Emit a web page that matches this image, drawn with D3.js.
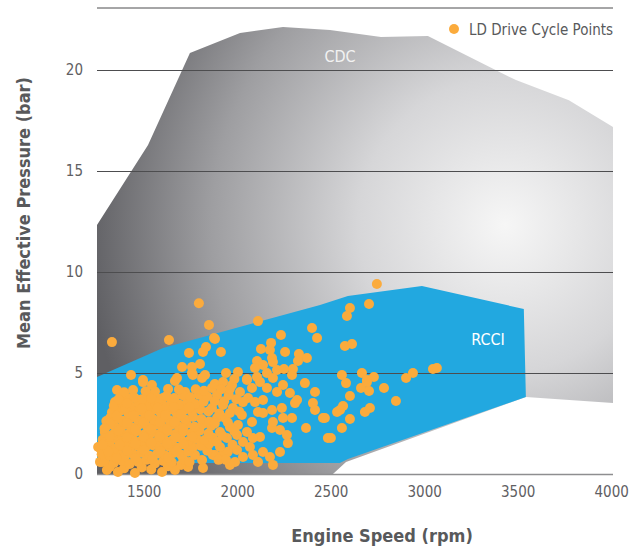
<!doctype html>
<html>
  <head>
    <script src="https://cdnjs.cloudflare.com/ajax/libs/d3/7.8.5/d3.min.js"></script>
    <style>
      body { margin: 0; background: #fff; }
      text { font-family: "DejaVu Sans Condensed", "Liberation Sans Narrow", Roboto, sans-serif; }
      .tick text { fill: #5f6063; font-size: 15px; }
      .axis-title { fill: #58595b; font-size: 18px; font-weight: bold; }
      line.grid { stroke: #4d4d4f; stroke-width: 1; }
      path.cdc { stroke: none; }
      path.rcci { fill: #22a8e0; stroke: none; }
      circle.pt { fill: #fbab3c; }
    </style>
  </head>
  <body>
    <svg width="636" height="547"></svg>
    <script>
      // operating map boundaries (rpm, bar)
      var cdcBoundary = [[1250,0],[1250,12.33],[1523,16.29],[1747,20.84],[2015,21.83],[2245,22.13],[2496,21.98],
        [2769,21.63],[3020,21.68],[3491,19.5],[3774,18.5],[4010,17.18],[4010,3.51],[3544,3.81],[2582,0.59],[2512,0]];
      var rcciBoundary = [[1250,4.8],[1603,6.24],[2443,8.37],[2592,8.81],[2988,9.31],[3533,8.17],[3544,3.81],
        [2592,0.74],[2549,0.54],[1250,0.54]];

      var xTicks = [1500, 2000, 2500, 3000, 3500, 4000];
      var yTicks = [5, 10, 15, 20];

      // LD drive cycle points (rpm, bar)
      var cyclePoints = [
        [1795,8.45],[1849,7.38],[1330,6.53],[1635,6.63],[1876,6.73],[1833,6.29],[1817,6.04],[1742,5.99],[1801,5.45],
        [1758,5.30],[1705,5.30],[1758,5.0],[1828,4.9],[1432,4.9],[1496,4.65],[1678,4.75],
        [2111,7.57],[1881,6.68],[2234,6.88],[2400,7.23],[2427,6.73],[1913,6.04],[2127,6.19],[2181,6.49],[2175,6.14],
        [2256,6.04],[2330,5.94],[2373,5.74],[2325,5.59],[2186,5.74],[2191,5.54],[2106,5.59],[2138,5.40],[2095,5.25],
        [2213,5.15],[2250,5.20],[2298,5.20],[2159,5.0],[2293,4.90],[2004,5.05],[1940,5.0],[2106,4.80],[2052,4.70],[2191,4.75],
        [2747,9.41],[2603,8.22],[2705,8.42],[2587,7.82],[2576,6.34],[2614,6.44],[2560,4.90],[2667,5.0],[2731,4.80],
        [2940,5.0],[3047,5.20],[3068,5.25],[2903,4.75],[2694,4.65],
        [2582,4.50],[2662,4.26],[2694,4.55],[2705,4.11],[2785,4.26],[2603,3.86],[2849,3.61],[2566,3.37],[2534,3.07],
        [2683,3.07],[2710,3.27],[2469,2.77],[2603,2.72],[2560,2.28],[2501,1.78],[2550,3.17],
        [2362,4.50],[2416,4.06],[2405,3.51],[2459,2.77],[2416,3.17],[2368,2.28],[2485,1.78],[2320,3.66],[2293,2.77],
        [2266,1.93],[2271,1.53],[2229,1.09],[2191,0.45],[2175,0.84],[2138,1.09],[2122,1.83],[2186,2.28],[2229,2.18],
        [2245,2.77],[2191,2.57],[2138,3.02],[2186,3.17],[2239,3.27],[2282,4.01],[2309,3.51],[2213,4.06],[2245,4.41],
        [2159,4.26],[2122,4.55],[2079,4.26],[2058,3.76],[2095,3.56],[2138,3.66],[2111,3.07],[2079,2.57],[2052,2.08],
        [2084,1.78],[2031,1.58],[2068,1.34],[2084,0.94],[2111,0.59],[2031,0.84],[1999,1.19],[1988,0.59],[1924,0.94],
        [1961,0.45],[1908,1.34],[1945,1.78],[1999,1.93],[2004,2.43],[1961,2.33],[1908,2.08],[1881,0.94],[1977,3.27],
        [2025,2.92],[2031,3.56],[2015,4.06],[1972,4.41],[1924,4.55],[2052,4.65],[1892,3.91],[1924,3.42],[1892,2.77],
        [1935,2.77],[1961,3.02],[1865,3.27],
        [1496,4.55],[1544,4.41],[1667,4.60],[1630,4.21],[1357,4.16],[1443,4.16],[1533,3.81],[1603,3.76],[1721,4.06],
        [1812,4.75],[1763,4.90],[1865,4.26],[1346,3.56],[1469,3.66],[1416,3.76],[1320,2.77],[1266,1.29],[1277,0.59],
        [1303,0.20],[1362,0.10],[1453,0.05],[1598,0.10],[1667,0.20],[1737,0.35],[1817,0.30],[1812,0.69],[1774,0.94],
        [1870,0.94],[1256,1.34],[1266,0.60],
        [1318,0.35],[1395,0.28],[1490,0.32],[1540,0.22],[1630,0.38],[1700,0.45],
        [1290,0.62],[1340,0.55],[1384,0.66],[1425,0.5],[1470,0.6],[1515,0.7],[1560,0.52],[1605,0.64],[1650,0.58],[1712,0.72],[1745,0.6],
        [1275,0.98],[1318,0.9],[1360,1.02],[1400,0.88],[1445,0.97],[1488,1.05],[1530,0.9],[1572,1.0],[1615,0.92],
        [1660,1.04],[1700,0.95],[1738,1.1],[1840,1.15],
        [1298,1.35],[1340,1.25],[1382,1.38],[1424,1.28],[1466,1.4],[1508,1.3],[1548,1.42],[1590,1.26],[1635,1.36],
        [1678,1.3],[1720,1.45],[1762,1.32],[1805,1.4],[1850,1.5],
        [1280,1.7],[1320,1.62],[1362,1.72],[1402,1.6],[1444,1.7],[1487,1.64],[1527,1.75],[1568,1.6],[1610,1.7],
        [1652,1.66],[1695,1.78],[1738,1.62],[1782,1.74],[1826,1.68],[1868,1.8],
        [1292,2.05],[1335,1.95],[1376,2.08],[1418,1.98],[1460,2.1],[1503,1.96],[1546,2.06],[1588,2.0],[1627,2.12],
        [1670,1.98],[1713,2.1],[1755,2.02],[1798,2.14],[1846,2.0],
        [1306,2.4],[1350,2.3],[1392,2.42],[1433,2.32],[1476,2.45],[1519,2.34],[1560,2.44],[1602,2.3],[1643,2.42],
        [1686,2.36],[1729,2.48],[1772,2.34],[1816,2.46],[1860,2.38],
        [1300,2.62],[1344,2.72],[1386,2.64],[1428,2.76],[1470,2.66],[1512,2.78],[1554,2.68],[1596,2.74],[1638,2.66],
        [1680,2.8],[1722,2.7],[1764,2.82],[1808,2.72],[1850,2.6],
        [1330,3.05],[1374,3.12],[1418,3.0],[1461,3.1],[1504,3.02],[1547,3.14],[1590,3.04],[1632,3.16],[1673,3.06],
        [1716,3.18],[1758,3.08],[1802,3.2],[1846,3.1],
        [1340,3.38],[1386,3.46],[1430,3.36],[1475,3.48],[1520,3.4],[1562,3.5],[1606,3.38],[1648,3.52],[1690,3.44],
        [1732,3.56],[1776,3.46],[1820,3.58],
        [1380,3.82],[1450,3.78],[1492,3.7],[1578,3.72],[1622,3.86],[1664,3.76],[1708,3.9],[1750,3.8],[1795,3.92],[1840,3.84],
        [1395,4.05],[1510,4.1],[1560,4.08],[1688,4.18],[1778,4.2],[1822,4.12],
        [1890,1.6],[1920,1.9],[1880,2.5],[1905,3.0],[1930,3.6],[1955,3.9],[1880,4.45],[1950,2.55],[1985,2.1],
        [1975,1.45],[1950,1.1],[1900,0.7],[1940,0.7],[1995,3.7],[2010,3.1],[1985,4.7],[1880,3.6],[1960,4.2],[1915,4.2],
        [1310,1.1],[1355,0.78],[1410,1.15],[1455,0.78],[1500,1.18],[1545,0.75],[1590,1.12],[1630,0.8],[1675,1.15],
        [1320,1.85],[1370,1.45],[1410,1.82],[1455,1.5],[1500,1.82],[1540,1.55],[1585,1.85],[1625,1.5],[1670,1.82],
        [1715,1.48],[1760,1.85],[1320,2.5],[1365,2.15],[1410,2.52],[1455,2.2],[1500,2.55],[1540,2.2],[1585,2.56],
        [1625,2.2],[1665,2.56],[1710,2.24],[1355,2.88],[1400,3.25],[1445,2.9],[1490,3.25],[1530,2.9],[1575,3.28],
        [1615,2.92],[1660,3.3],[1700,2.95],[1745,3.3],[1365,3.7],[1410,3.5],[1540,3.75],[1290,2.25],[1280,1.45]
      ];

      var svg = d3.select("svg");
      var x = d3.scaleLinear().domain([1250, 4010]).range([97, 613]);
      var y = d3.scaleLinear().domain([0, 23.07]).range([474, 8]);

      var grad = svg.append("defs").append("radialGradient")
          .attr("id", "cdcFill")
          .attr("gradientUnits", "userSpaceOnUse")
          .attr("cx", 505).attr("cy", 225).attr("r", 420);
      grad.append("stop").attr("offset", 0).attr("stop-color", "#f6f6f6");
      grad.append("stop").attr("offset", 0.35).attr("stop-color", "#d6d6d8");
      grad.append("stop").attr("offset", 0.7).attr("stop-color", "#9e9ea1");
      grad.append("stop").attr("offset", 1).attr("stop-color", "#5f5f63");

      var area = d3.line().x(d => x(d[0])).y(d => y(d[1]));

      svg.append("path")
          .datum(cdcBoundary)
          .attr("class", "cdc")
          .attr("fill", "url(#cdcFill)")
          .attr("d", d => area(d) + "Z");

      svg.append("path")
          .datum(rcciBoundary)
          .attr("class", "rcci")
          .attr("d", d => area(d) + "Z");

      // gridlines + y labels
      var yAxis = svg.append("g")
          .attr("transform", "translate(97,0)")
          .call(d3.axisLeft(y).tickValues([0].concat(yTicks)).tickSize(-(613 - 97)).tickPadding(14));
      yAxis.select(".domain").remove();
      yAxis.selectAll(".tick line").attr("stroke", "#4d4d4f");
      yAxis.selectAll(".tick").filter(d => d === 0).select("line").attr("stroke", "#8e8e90").attr("stroke-width", 1.5);

      svg.append("line")
          .attr("class", "grid")
          .attr("x1", 97).attr("x2", 613)
          .attr("y1", y(23.07)).attr("y2", y(23.07));

      var xAxis = svg.append("g")
          .attr("transform", "translate(0,474)")
          .call(d3.axisBottom(x).tickValues(xTicks).tickFormat(d3.format("d")).tickSize(0).tickPadding(12));
      xAxis.select(".domain").remove();

      svg.selectAll("g").attr("font-family", null).attr("font-size", null);

      svg.selectAll("circle.pt")
        .data(cyclePoints)
        .enter()
        .append("circle")
          .attr("class", "pt")
          .attr("cx", d => x(d[0]))
          .attr("cy", d => y(d[1]))
          .attr("r", 5);

      svg.append("text")
          .attr("x", 340).attr("y", 62)
          .attr("text-anchor", "middle")
          .attr("fill", "#f2f2f2")
          .attr("font-size", 16)
          .text("CDC");

      svg.append("text")
          .attr("x", 488).attr("y", 345)
          .attr("text-anchor", "middle")
          .attr("fill", "#ffffff")
          .attr("font-size", 16)
          .text("RCCI");

      svg.append("circle")
          .attr("cx", 454).attr("cy", 29).attr("r", 5)
          .attr("fill", "#fbab3c");
      svg.append("text")
          .attr("x", 469).attr("y", 35)
          .attr("fill", "#58595b")
          .attr("font-size", 15)
          .text("LD Drive Cycle Points");

      svg.append("text")
          .attr("class", "axis-title")
          .attr("x", 382).attr("y", 542)
          .attr("text-anchor", "middle")
          .text("Engine Speed (rpm)");

      svg.append("text")
          .attr("class", "axis-title")
          .attr("transform", "translate(30,213) rotate(-90)")
          .attr("text-anchor", "middle")
          .text("Mean Effective Pressure (bar)");
    </script>
  </body>
</html>
